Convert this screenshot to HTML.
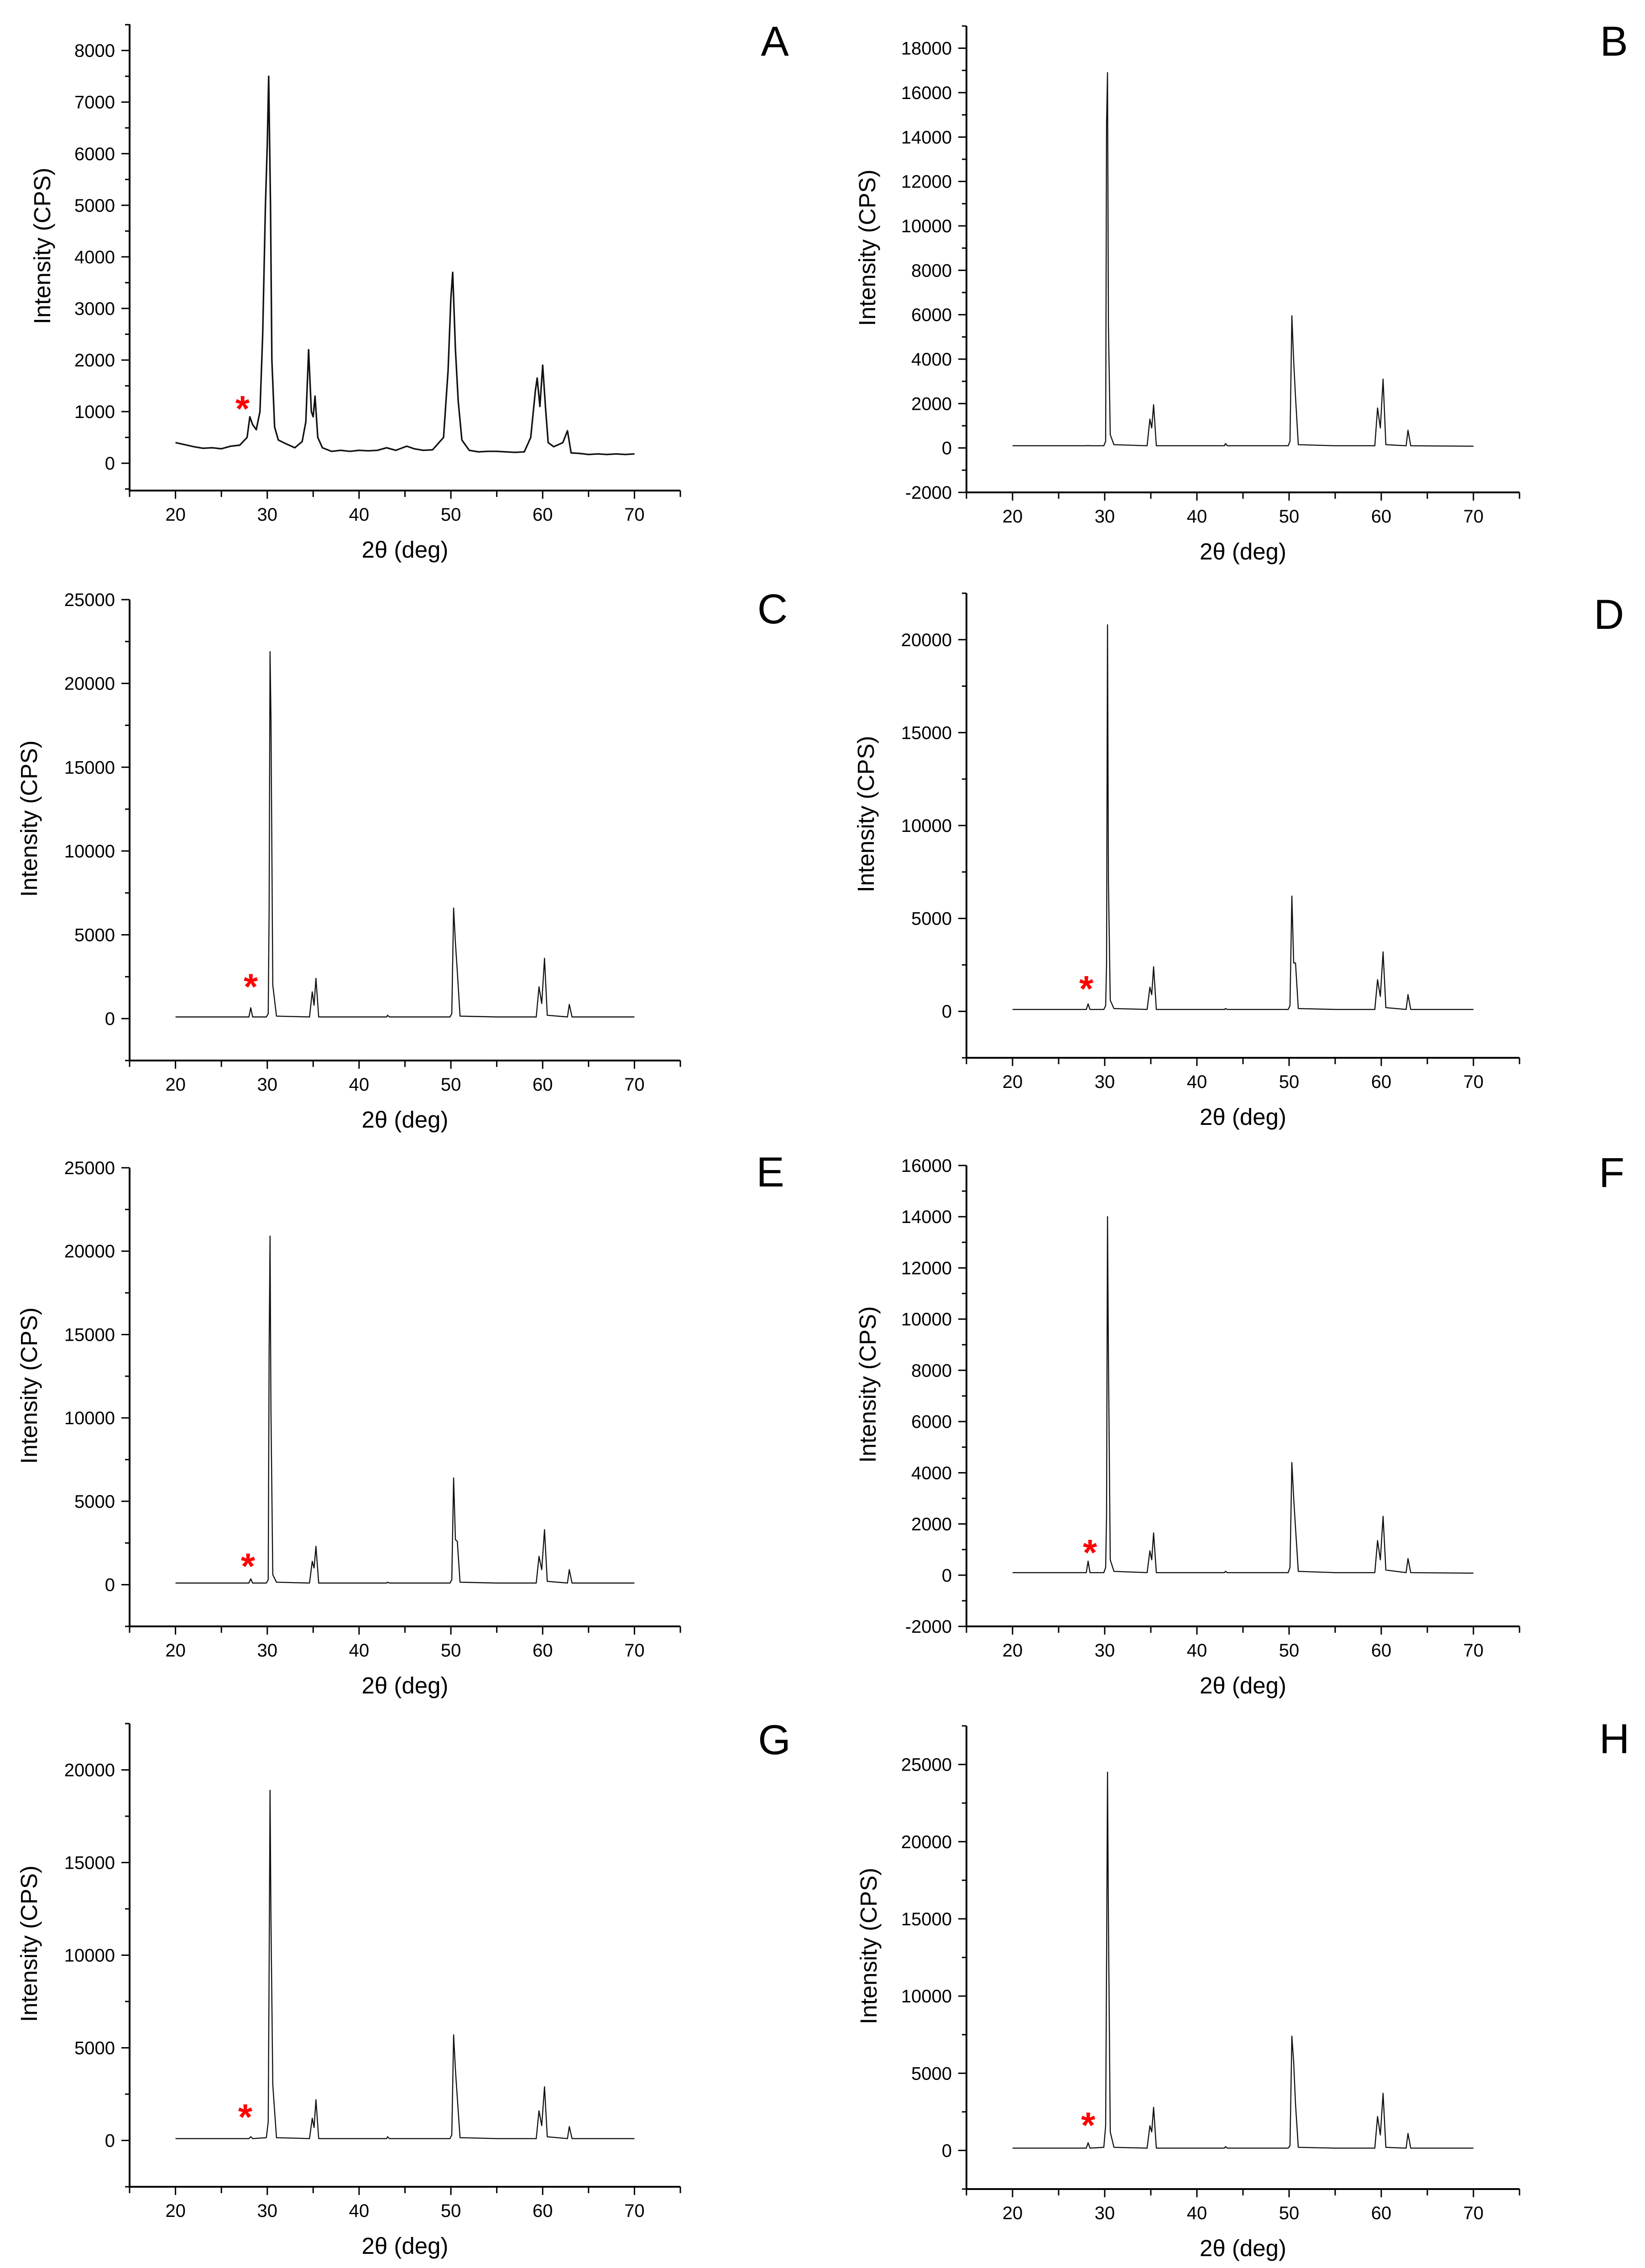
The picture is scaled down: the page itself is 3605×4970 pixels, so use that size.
<!DOCTYPE html>
<html><head><meta charset="utf-8"><style>
html,body{margin:0;padding:0;background:#fff;}
svg{display:block;font-family:"Liberation Sans",Arial,sans-serif;}
</style></head><body>
<svg id="fig" width="3605" height="4970" viewBox="0 0 3605 4970" xmlns="http://www.w3.org/2000/svg"></svg>
<script>
// ---- data ----
const twoThetaA = [20,21,22,23,24,25,26,27,27.8,28.1,28.4,28.8,29.2,29.5,29.8,30.0,30.15,30.35,30.5,30.8,31.2,32,33,33.8,34.2,34.5,34.8,35.0,35.2,35.5,36,37,38,39,40,41,42,43,44,45.2,46,47,48,49.2,49.7,50.0,50.2,50.5,50.8,51.2,52,53,54,55,56,57,58,58.7,59.2,59.4,59.7,60.0,60.3,60.6,61.2,62.2,62.7,63.1,64,65,66,67,68,69,70];
const intensityA = [400,360,320,290,300,280,330,350,500,900,750,650,1000,2500,5000,6200,7500,5000,2000,700,450,380,300,420,800,2200,1000,900,1300,500,300,230,250,230,250,240,250,300,250,330,280,250,260,500,1800,3200,3700,2200,1200,450,250,220,230,230,220,210,220,500,1400,1650,1100,1900,1100,400,320,400,630,200,190,170,180,170,180,170,180];
const twoTheta = [20,24,28.0,28.2,28.4,29.9,30.1,30.2,30.3,30.4,30.6,31.0,34.6,34.9,35.1,35.3,35.6,40,43.0,43.1,43.3,46,49.9,50.1,50.3,50.5,50.7,51.0,55,59.3,59.6,59.9,60.2,60.5,62.7,62.9,63.2,66,70];
const intensityB = [100,100,100,110,100,100,300,14600,16900,5500,600,150,100,1300,900,1950,100,100,100,200,100,100,100,300,5950,3900,2300,150,100,100,1800,900,3100,150,100,800,100,90,80];
const intensityC = [100,100,100,650,100,100,300,6500,21900,18000,2000,150,100,1600,800,2400,100,100,100,200,100,100,100,300,6600,4500,2800,150,100,100,1900,900,3600,200,100,850,100,100,100];
const intensityD = [100,100,100,400,100,100,300,2500,20800,7000,600,150,100,1300,900,2400,100,100,100,150,100,100,100,300,6200,2600,2600,150,100,100,1700,800,3200,200,100,900,100,100,100];
const intensityE = [100,100,100,350,100,100,300,14000,20900,10400,600,150,100,1400,1000,2300,100,100,100,150,100,100,100,300,6400,2700,2600,150,100,100,1700,900,3300,200,100,900,100,100,100];
const intensityF = [100,100,100,550,100,100,300,2300,14000,8500,600,150,100,950,600,1650,100,100,100,150,100,100,100,300,4400,3000,1850,150,100,100,1350,600,2300,200,100,650,100,90,80];
const intensityG = [100,100,100,200,100,150,1000,9300,18900,12000,3000,150,100,1200,700,2200,100,100,100,200,100,100,100,300,5700,3800,2300,150,100,100,1600,800,2900,200,100,750,100,100,100];
const intensityH = [150,150,150,500,150,200,1600,11900,24500,15000,1200,200,150,1600,1200,2800,150,150,150,250,150,150,150,300,7400,5700,3000,200,150,150,2200,1000,3700,200,150,1100,150,150,150];
const xTicks = [20,30,40,50,60,70];
const yTicksA = [0,1000,2000,3000,4000,5000,6000,7000,8000];
const yTicksB = [-2000,0,2000,4000,6000,8000,10000,12000,14000,16000,18000];
const yTicksC = [0,5000,10000,15000,20000,25000];
const yTicksD = [0,5000,10000,15000,20000];
const yTicksE = [0,5000,10000,15000,20000,25000];
const yTicksF = [-2000,0,2000,4000,6000,8000,10000,12000,14000,16000];
const yTicksG = [0,5000,10000,15000,20000];
const yTicksH = [0,5000,10000,15000,20000,25000];
const starA = [27.3,1150], starC=[28.2,2200], starD=[28.0,1480], starE=[27.9,1400], starF=[28.4,1070], starG=[27.6,1530], starH=[28.2,1950];

// ---- layout ----
const L = [284,1491], R = [2118,3330];
const panels = [
 {id:'A',xr:L,top:53,bot:1075,ymin:-530,ymax:8510,minor:500,xs:twoThetaA,ys:intensityA,ticks:yTicksA,star:starA,tx:92,lx:1698,ly:89,lw:3.4},
 {id:'B',xr:R,top:57,bot:1079,ymin:-2000,ymax:19000,minor:1000,xs:twoTheta,ys:intensityB,ticks:yTicksB,star:null,tx:1900,lx:3537,ly:89,lw:2.4},
 {id:'C',xr:L,top:1314,bot:2324,ymin:-2500,ymax:25000,minor:2500,xs:twoTheta,ys:intensityC,ticks:yTicksC,star:starC,tx:63,lx:1693,ly:1333,lw:2.4},
 {id:'D',xr:R,top:1300,bot:2318,ymin:-2500,ymax:22500,minor:2500,xs:twoTheta,ys:intensityD,ticks:yTicksD,star:starD,tx:1897,lx:3526,ly:1345,lw:2.4},
 {id:'E',xr:L,top:2559,bot:3564,ymin:-2500,ymax:25000,minor:2500,xs:twoTheta,ys:intensityE,ticks:yTicksE,star:starE,tx:63,lx:1688,ly:2567,lw:2.4},
 {id:'F',xr:R,top:2554,bot:3564,ymin:-2000,ymax:16000,minor:1000,xs:twoTheta,ys:intensityF,ticks:yTicksF,star:starF,tx:1901,lx:3532,ly:2568,lw:2.4},
 {id:'G',xr:L,top:3777,bot:4792,ymin:-2500,ymax:22500,minor:2500,xs:twoTheta,ys:intensityG,ticks:yTicksG,star:starG,tx:63,lx:1697,ly:3811,lw:2.4},
 {id:'H',xr:R,top:3782,bot:4797,ymin:-2500,ymax:27500,minor:2500,xs:twoTheta,ys:intensityH,ticks:yTicksH,star:starH,tx:1903,lx:3538,ly:3809,lw:2.4}
];
const NS='http://www.w3.org/2000/svg';
const svg=document.getElementById('fig');
function mk(tag,attrs,parent,text){const e=document.createElementNS(NS,tag);for(const k in attrs)e.setAttribute(k,attrs[k]);if(text!==undefined)e.textContent=text;parent.appendChild(e);return e;}
panels.forEach(p=>{
 const g=mk('g',{},svg);
 
 
 const X=v=>p.xr[0]+(v-15)/(75-15)*(p.xr[1]-p.xr[0]);
 const Y=v=>p.bot-(v-p.ymin)/(p.ymax-p.ymin)*(p.bot-p.top);
 const ax=p.xr[0];
 const ya=mk('line',{x1:ax,y1:p.top,x2:ax,y2:p.bot,stroke:'#000','stroke-width':4},g);
 
 
 const xa=mk('line',{x1:ax-2,y1:p.bot,x2:p.xr[1],y2:p.bot,stroke:'#000','stroke-width':4},g);
 
 
 for(let v=Math.ceil(p.ymin/p.minor)*p.minor; v<=p.ymax+1e-6; v+=p.minor){
  const isMaj=p.ticks.indexOf(v)>=0;
  mk('line',{x1:ax-(isMaj?18:10),y1:Y(v),x2:ax,y2:Y(v),stroke:'#000','stroke-width':3},g);
 }
 p.ticks.forEach(v=>{
  const t=mk('text',{x:ax-32,y:Y(v)+14,'font-size':40,'text-anchor':'end',fill:'#000'},g,String(v));
  
  
 });
 for(let v=15; v<=75; v+=5){
  mk('line',{x1:X(v),y1:p.bot,x2:X(v),y2:p.bot+(v%10===0?18:14),stroke:'#000','stroke-width':3},g);
 }
 xTicks.forEach(v=>{
  const t=mk('text',{x:X(v),y:p.bot+66,'font-size':40,'text-anchor':'middle',fill:'#000'},g,String(v));
  
  
 });
 const xt=mk('text',{x:(p.xr[0]+p.xr[1])/2,y:p.bot+147,'font-size':51,'text-anchor':'middle',fill:'#000'},g,'2θ (deg)');
 
 
 const cy=(p.top+p.bot)/2-25;
 const yt=mk('text',{x:p.tx,y:cy,'font-size':51,'text-anchor':'middle',fill:'#000',transform:'rotate(-90 '+p.tx+' '+cy+')',dy:18},g,'Intensity (CPS)');
 
 
 const pts=p.xs.map((x,i)=>X(x).toFixed(1)+','+Y(p.ys[i]).toFixed(1)).join(' ');
 const pl=mk('polyline',{points:pts,fill:'none',stroke:'#111','stroke-width':p.lw,'stroke-linejoin':'round'},g);
 
 
 if(p.star){
  const s=mk('text',{x:X(p.star[0]),y:Y(p.star[1])+38,'font-size':80,'font-weight':'bold','text-anchor':'middle',fill:'#ff0000'},g,'*');
  
  
 }
 const lt=mk('text',{x:p.lx,y:p.ly+33,'font-size':92,'text-anchor':'middle',fill:'#000'},g,p.id);
 
 
});
</script>
</body></html>
